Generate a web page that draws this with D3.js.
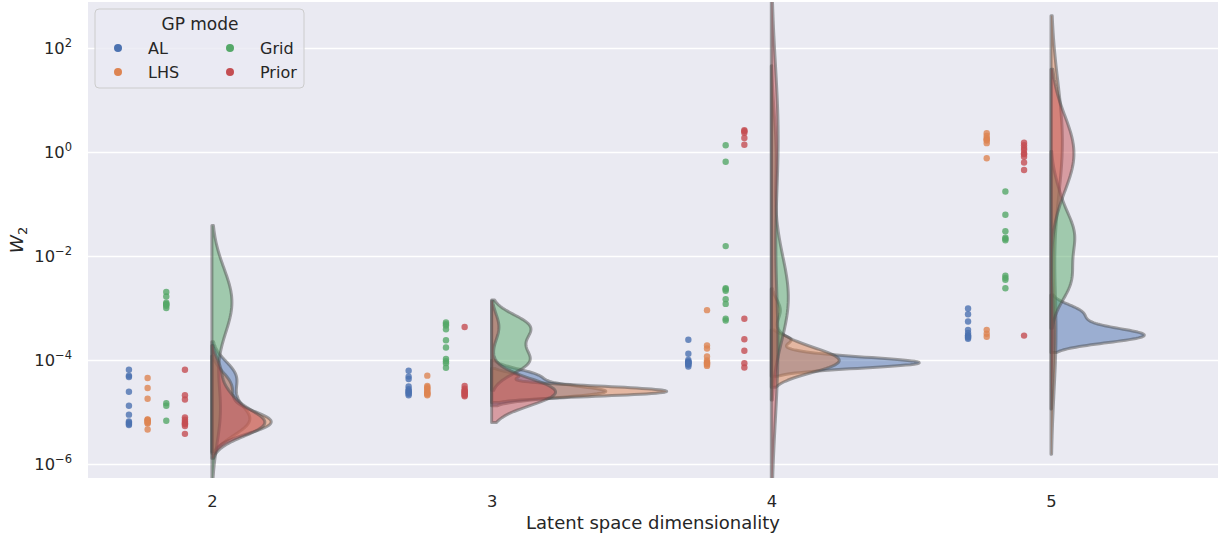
<!DOCTYPE html>
<html>
<head>
<meta charset="utf-8">
<script src="https://cdn.jsdelivr.net/npm/d3@7"></script>
<style>
  body { margin: 0; background: #fff; }
  text { font-family: "DejaVu Sans", sans-serif; fill: #262626; }
</style>
</head>
<body>
<div class="chart"></div>
<script>
// categories and hue levels
var dims = ['2', '3', '4', '5'];
var modes = ['AL', 'LHS', 'Grid', 'Prior'];

// W2 values per latent dim (2, 3, 4, 5)
var alW2 = [
  [6.5e-5, 5.0e-5, 4.7e-5, 2.45e-5, 1.32e-5, 8.9e-6, 6.6e-6, 6.2e-6, 5.9e-6, 5.6e-6],
  [6.2e-5, 4.8e-5, 4.3e-5, 3.1e-5, 2.75e-5, 2.57e-5, 2.45e-5, 2.35e-5, 2.24e-5, 2.1e-5],
  [2.45e-4, 1.32e-4, 1.0e-4, 9.4e-5, 9.2e-5, 9.0e-5, 8.7e-5, 8.4e-5, 8.1e-5, 7.5e-5],
  [9.8e-4, 7.6e-4, 5.5e-4, 3.8e-4, 3.3e-4, 3.0e-4, 2.9e-4, 2.8e-4, 2.7e-4, 2.55e-4]
];
var lhsW2 = [
  [4.5e-5, 2.9e-5, 1.8e-5, 7.2e-6, 7.1e-6, 6.8e-6, 6.5e-6, 6.2e-6, 6.0e-6, 4.6e-6],
  [5.0e-5, 3.16e-5, 3.0e-5, 2.8e-5, 2.7e-5, 2.45e-5, 2.35e-5, 2.3e-5, 2.2e-5, 2.1e-5],
  [9.1e-4, 1.9e-4, 1.66e-4, 1.17e-4, 9.8e-5, 9.1e-5, 8.8e-5, 8.5e-5, 8.2e-5, 7.7e-5],
  [2.29, 2.04, 1.82, 1.74, 1.66, 1.48, 0.76, 3.8e-4, 3.2e-4, 2.8e-4]
];
var gridW2 = [
  [2.04e-3, 1.66e-3, 1.26e-3, 1.2e-3, 1.17e-3, 1.1e-3, 1.0e-3, 1.48e-5, 1.32e-5, 6.8e-6],
  [5.25e-4, 4.9e-4, 4.6e-4, 3.9e-4, 2.4e-4, 1.74e-4, 1.05e-4, 9.5e-5, 8.7e-5, 7.1e-5],
  [1.35, 0.65, 1.55e-2, 2.4e-3, 2.3e-3, 2.14e-3, 1.48e-3, 1.2e-3, 6.2e-4, 5.75e-4],
  [0.174, 0.062, 0.030, 0.0224, 0.0214, 0.020, 4.2e-3, 3.8e-3, 3.5e-3, 2.4e-3]
];
var priorW2 = [
  [6.5e-5, 2.1e-5, 1.74e-5, 7.9e-6, 7.1e-6, 6.5e-6, 6.1e-6, 5.8e-6, 5.4e-6, 3.8e-6],
  [4.3e-4, 3.16e-5, 2.8e-5, 2.6e-5, 2.5e-5, 2.4e-5, 2.3e-5, 2.2e-5, 2.1e-5, 2.0e-5],
  [2.63, 2.51, 2.34, 1.86, 1.38, 6.2e-4, 2.5e-4, 1.51e-4, 8.7e-5, 7.2e-5],
  [1.51, 1.35, 1.2, 1.1, 0.95, 0.91, 0.81, 0.63, 0.45, 2.95e-4]
];
var yTicks = [1e-6, 1e-4, 1e-2, 1, 1e2];

var seriesByMode = [alW2, lhsW2, gridW2, priorW2];
var colors = ['#4c72b0', '#dd8452', '#55a868', '#c44e52'];

var width = 1220, height = 538;
var plot = {left: 88, right: 1218, top: 2, bottom: 478};

var svg = d3.select('.chart').append('svg').attr('width', width).attr('height', height);

var x = d3.scaleLinear().domain([-0.443, 3.597]).range([plot.left, plot.right]);
var y = d3.scaleLog().domain([Math.pow(10, -6.269), Math.pow(10, 2.885)]).range([plot.bottom, plot.top]);
var hueOffset = d3.scaleBand().domain(modes).range([-0.33, -0.063]);
var color = d3.scaleOrdinal().domain(modes).range(colors);

svg.append('rect').attr('x', plot.left).attr('y', plot.top)
  .attr('width', plot.right - plot.left).attr('height', plot.bottom - plot.top)
  .attr('fill', '#eaeaf2');

svg.append('clipPath').attr('id', 'clip').append('rect')
  .attr('x', plot.left).attr('y', plot.top)
  .attr('width', plot.right - plot.left).attr('height', plot.bottom - plot.top);

// y grid + tick labels
var yAxis = d3.axisLeft(y).tickValues(yTicks).tickSize(-(plot.right - plot.left)).tickFormat('');
var yg = svg.append('g').attr('transform', `translate(${plot.left},0)`).call(yAxis);
yg.select('.domain').remove();
yg.selectAll('.tick line').attr('stroke', '#fff').attr('stroke-width', 1.6);

var lbl = svg.append('g').selectAll('text').data(yTicks).enter().append('text')
  .attr('x', 72).attr('y', d => y(d) + 6)
  .attr('text-anchor', 'end').style('font-size', '16.3px');
lbl.append('tspan').text('10');
lbl.append('tspan').attr('dy', -7).style('font-size', '11.5px')
  .text(d => String(Math.round(Math.log10(d))).replace('-', '\u2212'));

// x tick labels
var xAxis = d3.axisBottom(x).tickValues(d3.range(dims.length)).tickSize(0).tickPadding(0)
  .tickFormat(i => dims[i]);
var xg = svg.append('g').attr('transform', `translate(0,${plot.bottom + 29})`).call(xAxis);
xg.select('.domain').remove();
xg.selectAll('text').style('font-size', '16.3px').attr('fill', '#262626').attr('dy', 0)
  .style('font-family', '"DejaVu Sans", sans-serif');

svg.append('text').attr('x', (plot.left + plot.right) / 2).attr('y', 529)
  .attr('text-anchor', 'middle').style('font-size', '18px').text('Latent space dimensionality');

var ylab = svg.append('text').attr('transform', 'translate(23,240) rotate(-90)')
  .attr('text-anchor', 'middle').style('font-size', '18.5px');
ylab.append('tspan').style('font-style', 'italic').text('W');
ylab.append('tspan').attr('dy', 4).style('font-size', '13px').text('2');

// kde in log space, scott bandwidth, cut = 2
var kde = function(vals) {
  var lv = vals.map(Math.log10);
  var n = lv.length;
  var bw = d3.deviation(lv) * Math.pow(n, -0.2);
  var lo = d3.min(lv) - 2 * bw, hi = d3.max(lv) + 2 * bw;
  return d3.range(100).map(function(i) {
    var t = lo + (hi - lo) * i / 99;
    var dens = d3.mean(lv, v => Math.exp(-0.5 * Math.pow((t - v) / bw, 2))) / (bw * Math.sqrt(2 * Math.PI));
    return [t, dens];
  });
};

var violins = [];
dims.forEach(function(dim, i) {
  modes.forEach(function(m, j) {
    violins.push({dim: i, mode: m, curve: kde(seriesByMode[j][i])});
  });
});
var maxDens = d3.max(violins, v => d3.max(v.curve, c => c[1]));
var w = d3.scaleLinear().domain([0, maxDens]).range([0, 175]);

var vg = svg.append('g').attr('clip-path', 'url(#clip)');
vg.selectAll('path').data(violins).enter().append('path')
  .attr('d', function(v) {
    return d3.area()
      .y(c => y(Math.pow(10, c[0])))
      .x0(x(v.dim))
      .x1(c => x(v.dim) + w(c[1]))(v.curve);
  })
  .attr('fill', v => color(v.mode)).attr('fill-opacity', 0.5)
  .attr('stroke', '#4d4d4d').attr('stroke-opacity', 0.5).attr('stroke-width', 3)
  .attr('stroke-linejoin', 'round');

// strip points
var pts = [];
dims.forEach(function(dim, i) {
  modes.forEach(function(m, j) {
    seriesByMode[j][i].forEach(function(val) {
      pts.push({dim: i, mode: m, value: val});
    });
  });
});
svg.append('g').selectAll('circle').data(pts).enter().append('circle')
  .attr('cx', d => x(d.dim + hueOffset(d.mode) + hueOffset.bandwidth() / 2))
  .attr('cy', d => y(d.value))
  .attr('r', 3.2)
  .attr('fill', d => color(d.mode)).attr('fill-opacity', 0.8);

// legend
var legend = svg.append('g').attr('transform', 'translate(95,9)');
legend.append('rect').attr('width', 209).attr('height', 79).attr('rx', 4)
  .attr('fill', '#eaeaf2').attr('fill-opacity', 0.8).attr('stroke', '#cccccc');
legend.append('text').attr('x', 105).attr('y', 21).attr('text-anchor', 'middle')
  .style('font-size', '17px').text('GP mode');
var items = legend.selectAll('.item').data(modes).enter().append('g')
  .attr('transform', (d, i) => `translate(${23 + Math.floor(i / 2) * 112},${39 + (i % 2) * 24})`);
items.append('circle').attr('r', 4).attr('fill', d => color(d));
items.append('text').attr('x', 30).attr('y', 5.5).style('font-size', '16px').text(d => d);
</script>
</body>
</html>
